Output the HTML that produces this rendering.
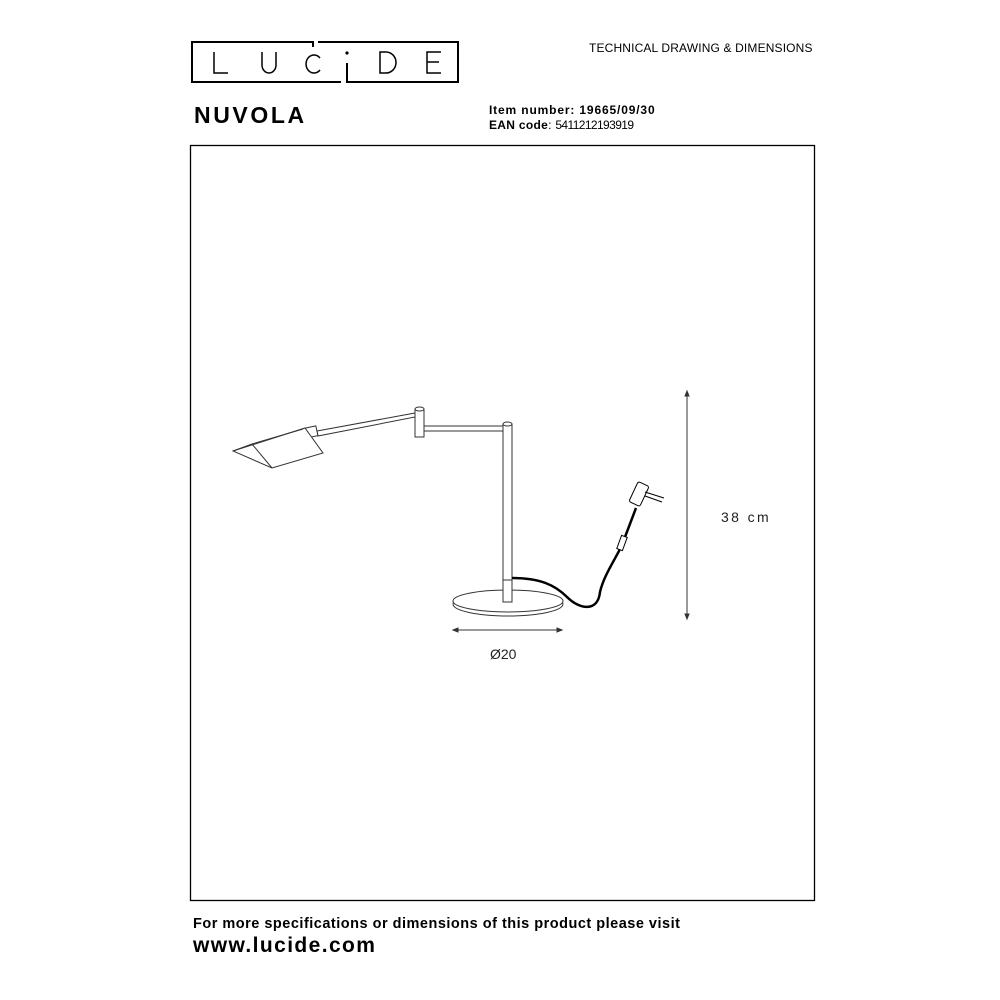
<!DOCTYPE html>
<html><head><style>
body{margin:0;width:1000px;height:1000px;background:#fff;position:relative;font-family:"Liberation Sans",sans-serif;overflow:hidden}
.t{position:absolute;white-space:nowrap;color:#000}
</style></head><body>
<svg width="1000" height="1000" style="position:absolute;left:0;top:0">
<g fill="none" stroke="#000" stroke-width="2">
<polyline points="313,47 313,42 192,42 192,82 341,82"/>
<polyline points="318,42 458,42 458,82 347,82 347,63"/>
</g>
<circle cx="347" cy="53" r="1.6" fill="#000"/>
<g fill="none" stroke="#000" stroke-width="1.5">
<polyline points="214,52 214,73 228,73"/>
<path d="M262,52 V65 A7,8 0 0 0 276,65 V52"/>
<path d="M320,58 A8,9 0 1 0 320,70"/>
<path d="M380,52 V73 H386 A10,10.5 0 0 0 386,52 Z"/>
<polyline points="441,52 427,52 427,73 441,73"/><line x1="427" y1="62" x2="439" y2="62"/>
</g>
<rect x="190.5" y="145.5" width="624" height="755" fill="none" stroke="#000" stroke-width="1.3"/>
<g fill="#fff" stroke="#333" stroke-width="1">
<polygon points="317,431 415,413 415,417 318,436"/>
<rect x="305" y="427" width="12" height="10" transform="rotate(-12 311 432)"/>
<polygon points="233,451 305,428 323,453 272,468"/>
<polyline points="233,451 252,444 272,468" fill="none"/>
<line x1="252" y1="444" x2="303" y2="429"/>
<rect x="423" y="426" width="82" height="5"/>
<rect x="503" y="424" width="9" height="178"/>
<ellipse cx="508" cy="604" rx="55" ry="12"/>
<ellipse cx="508" cy="601" rx="55" ry="11"/>
<rect x="503" y="580" width="9" height="22"/>
<rect x="415" y="409" width="9" height="28"/>
<ellipse cx="419.5" cy="409" rx="4.5" ry="2"/>
<ellipse cx="507.5" cy="424" rx="4.5" ry="2"/>
</g>
<path d="M512,578 C540,578 555,585 567,597 C580,610 598,612 600,592 C604,575 615,560 622,545 L636,508" fill="none" stroke="#000" stroke-width="2.5"/>
<rect x="619" y="536" width="6" height="14" fill="#fff" stroke="#000" transform="rotate(20 622 543)"/>
<rect x="633" y="483" width="12" height="22" rx="2" fill="#fff" stroke="#000" transform="rotate(25 639 494)"/>
<line x1="645" y1="492" x2="664" y2="498" stroke="#000"/>
<line x1="645" y1="496" x2="662" y2="502" stroke="#000"/>
<g stroke="#333" stroke-width="1" fill="#333">
<line x1="687" y1="393" x2="687" y2="617"/>
<polygon points="687,391 685,396 689,396"/><polygon points="687,619 685,614 689,614"/>
<line x1="455" y1="630" x2="560" y2="630"/>
<polygon points="453,630 458,628 458,632"/><polygon points="562,630 557,628 557,632"/>
</g>
</svg>
<div class="t" style="left:589px;top:41px;font-size:12px;letter-spacing:0.15px">TECHNICAL DRAWING &amp; DIMENSIONS</div>
<div class="t" style="left:194px;top:102px;font-size:23px;font-weight:bold;letter-spacing:2.6px">NUVOLA</div>
<div class="t" style="left:489px;top:103px;font-size:12px;font-weight:bold;letter-spacing:0.85px">Item number: 19665/09/30</div>
<div class="t" style="left:489px;top:118px;font-size:12px;letter-spacing:0.3px"><b>EAN code</b>: <span style="letter-spacing:-0.6px">5411212193919</span></div>
<div class="t" style="left:721px;top:509px;font-size:14px;color:#222;letter-spacing:2.4px">38 cm</div>
<div class="t" style="left:490px;top:646px;font-size:14px;color:#222">Ø20</div>
<div class="t" style="left:193px;top:916px;font-size:14.5px;font-weight:bold;letter-spacing:0.5px">For more specifications or dimensions of this product please visit</div>
<div class="t" style="left:193px;top:934px;font-size:21px;font-weight:bold;letter-spacing:1.4px">www.lucide.com</div>
</body></html>
